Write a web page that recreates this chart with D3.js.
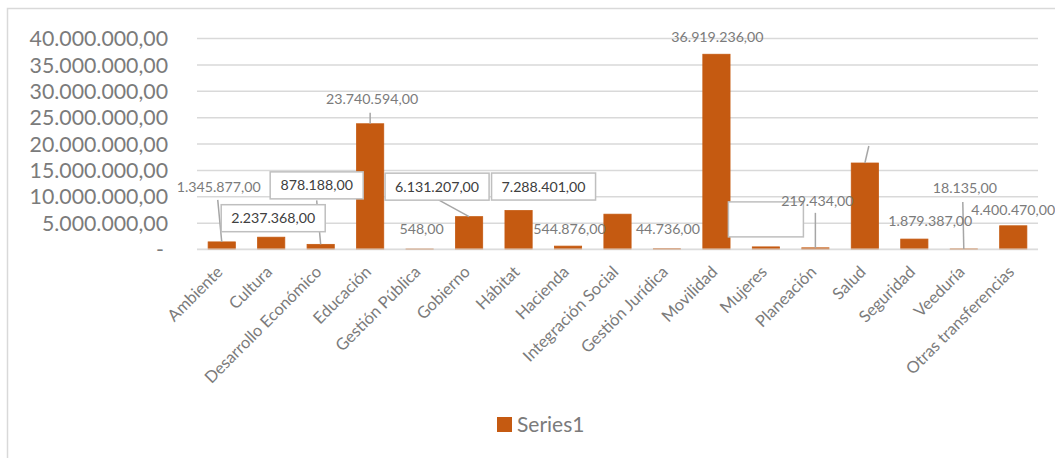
<!DOCTYPE html>
<html><head><meta charset="utf-8">
<script src="https://cdn.jsdelivr.net/npm/d3@7"></script>
<style>
body{margin:0;background:#fff;}
svg{display:block;font-family:Lato,"Open Sans",sans-serif;}
</style></head>
<body><svg id="c" width="1055" height="458"></svg>
<script>
const categories = ["Ambiente","Cultura","Desarrollo Económico","Educación","Gestión Pública","Gobierno","Hábitat","Hacienda","Integración Social","Gestión Jurídica","Movilidad","Mujeres","Planeación","Salud","Seguridad","Veeduría","Otras transferencias"];
const values = [1345877,2237368,878188,23740594,548,6131207,7288401,544876,6600000,44736,36919236,400000,219434,16300000,1879387,18135,4400470];
const yTicks = [0,5000000,10000000,15000000,20000000,25000000,30000000,35000000,40000000];
const seriesName = "Series1";
// which data labels are shown, and how they were placed (text, box, leader)
const labelShown = [true,true,true,true,true,true,true,true,false,true,true,"empty",true,"leader",true,true,true];
const labelBoxed = [false,true,true,false,false,true,true,false,false,false,false,true,false,false,false,false,false];
const labelOffset = [[-3,-55],[2,-19],[-4,-59],[2,-25],[2,-20],[-32,-30],[25,-24],[1.5,-17],[0,0],[1,-20],[1,-17],[0,-27.5],[2,-47],[4,-17],[16,-18],[1,-61],[0,-16]];
const leaders = {0:[[-4,-42],[0,0]],2:[[-4,-44],[0,0]],3:[[0,-11],[0,0]],5:[[-31,-17],[0,0]],12:[[0,-35],[0,0]],13:[[4,-17],[0,0]],15:[[-1,-47],[0,0]]};

const fmt = v => d3.format(",.2f")(v).replace(/,/g,"#").replace(/\./g,",").replace(/#/g,".");

const svg = d3.select("#c");
const M = {left:197, right:1038, top:38, bottom:249};
const x = d3.scaleBand().domain(categories).range([M.left, M.right]).paddingInner(0.45).paddingOuter(0.225);
const y = d3.scaleLinear().domain([0,40000000]).range([M.bottom, M.top]);

// chart border (visible top & left)
svg.append("path").attr("d","M7.5,458 V8.5 H1055").attr("fill","none").attr("stroke","#d9d9d9").attr("stroke-width",1.5);

// gridlines
const grid = d3.axisLeft(y).tickValues(yTicks).tickSize(-(M.right-M.left)).tickFormat("");
const g = svg.append("g").attr("transform",`translate(${M.left},0)`).call(grid);
g.select(".domain").remove();
g.selectAll("line").attr("stroke","#d9d9d9").attr("stroke-width",1.5);

// y labels
const ya = svg.append("g").attr("transform",`translate(168,0)`)
  .call(d3.axisLeft(y).tickValues(yTicks).tickSize(0).tickPadding(0).tickFormat(d => d===0 ? "-" : fmt(d)));
ya.select(".domain").remove();
ya.selectAll("text").attr("font-size",21.3).attr("fill","#7b7b7b").attr("font-family","Lato").attr("dy","0.36em")
  .attr("dx", d => d===0 ? -4 : 0);

// bars
svg.append("g").selectAll("rect").data(values).join("rect")
  .attr("x",(d,i)=>x(categories[i])).attr("width",x.bandwidth())
  .attr("y",d=>y(d)).attr("height",d=>M.bottom-y(d))
  .attr("fill","#c55a11").attr("stroke","#c55a11").attr("stroke-width",0.8);

// baseline over bars
svg.append("line").attr("x1",M.left).attr("x2",M.right).attr("y1",M.bottom).attr("y2",M.bottom)
  .attr("stroke","#e0e0e0").attr("stroke-width",1.5).attr("opacity",0.6);

// x labels
const xa = svg.append("g").attr("transform",`translate(0,${M.bottom})`)
  .call(d3.axisBottom(x).tickSize(0).tickPadding(0));
xa.select(".domain").remove();
xa.selectAll("text").attr("font-size",16.4).attr("fill","#7b7b7b").attr("font-family","Lato")
  .attr("text-anchor","end").attr("dy",0)
  .attr("transform","translate(2,24) rotate(-45)");

// leader lines
const lg = svg.append("g");
Object.entries(leaders).forEach(([k,pts])=>{
  const i = +k, cx = x(categories[i]) + x.bandwidth()/2, ty = y(values[i]);
  lg.append("line").attr("x1",cx+pts[0][0]).attr("y1",ty+pts[0][1]).attr("x2",cx+pts[1][0]).attr("y2",ty+pts[1][1])
    .attr("stroke","#a6a6a6").attr("stroke-width",1.5);
});

// data labels
const dl = svg.append("g");
values.forEach((v,i)=>{
  const shown = labelShown[i];
  if (shown===false || shown==="leader") return;
  const cx = x(categories[i]) + x.bandwidth()/2 + labelOffset[i][0];
  const cy = y(v) + labelOffset[i][1];
  if (shown==="empty") {
    dl.append("rect").attr("x",cx-37.5).attr("y",cy-17.5).attr("width",75).attr("height",35)
      .attr("fill","#fff").attr("stroke","#bfbfbf").attr("stroke-width",1.5);
    return;
  }
  if (labelBoxed[i]) {
    dl.append("rect").attr("x",cx-52).attr("y",cy-13.5).attr("width", i===2 ? 93 : 104).attr("height",27)
      .attr("transform", i===2 ? "translate(5.5,0)" : null)
      .attr("fill","#fff").attr("stroke","#bfbfbf").attr("stroke-width",1.5);
  }
  dl.append("text").attr("x",cx).attr("y",cy).attr("dy","0.36em").attr("text-anchor","middle")
    .attr("font-size",14.2).attr("font-family","Lato")
    .attr("fill", labelBoxed[i] ? "#404040" : "#7b7b7b").text(fmt(v));
});

// legend
const leg = svg.append("g").attr("transform","translate(497,417)");
leg.append("rect").attr("width",15).attr("height",15).attr("fill","#c55a11");
leg.append("text").attr("x",20).attr("y",7.5).attr("dy","0.36em").attr("font-size",21).attr("font-family","Lato")
  .attr("fill","#7b7b7b").text(seriesName);
</script></body></html>
